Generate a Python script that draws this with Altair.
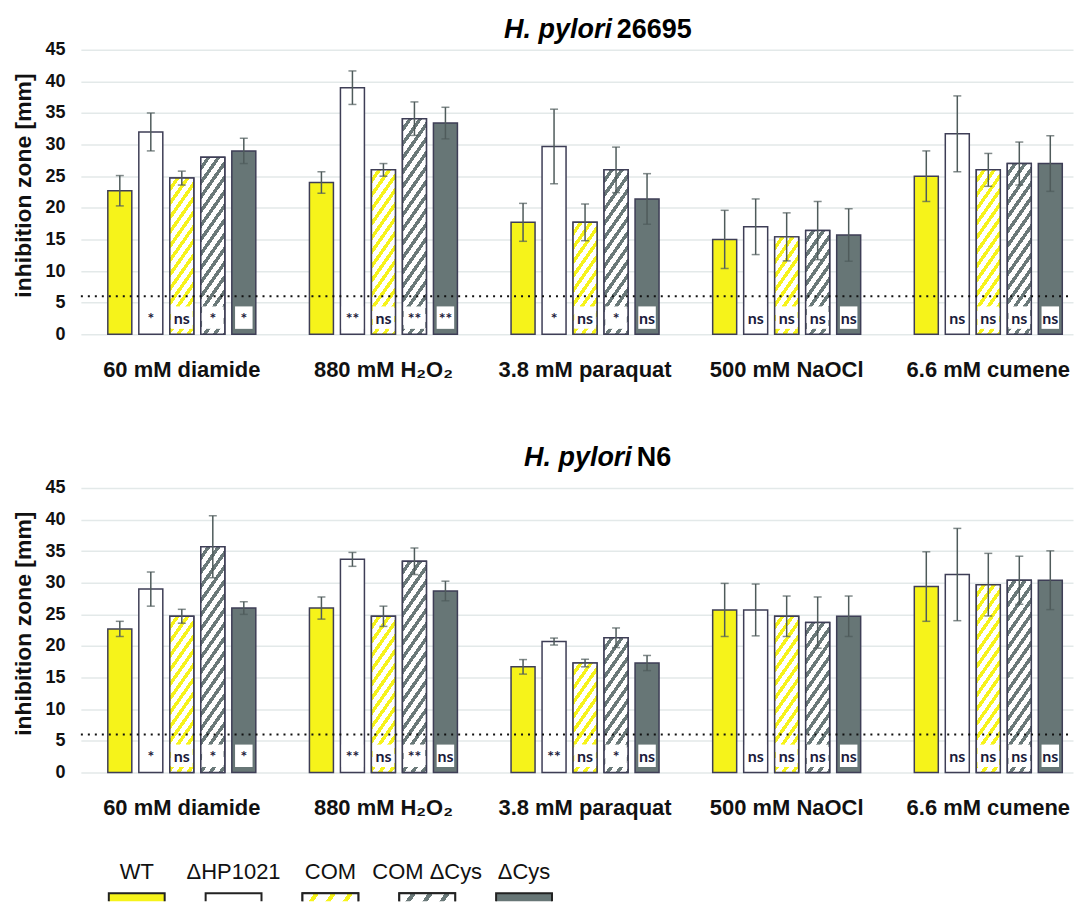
import math
import altair as alt
import pandas as pd

# ---------------- data ----------------
conditions = ["60 mM diamide", "880 mM H₂O₂", "3.8 mM paraquat", "500 mM NaOCl", "6.6 mM cumene"]
strains = ["WT", "ΔHP1021", "COM", "COM ΔCys", "ΔCys"]
threshold = [6]

# H. pylori 26695 (rows = conditions, cols = strains)
top_means = [
    [22.7, 32.0, 24.7, 28.0, 29.0],
    [24.0, 39.0, 26.0, 34.1, 33.4],
    [17.7, 29.7, 17.7, 26.0, 21.4],
    [15.0, 17.0, 15.4, 16.4, 15.7],
    [25.0, 31.7, 26.0, 27.0, 27.0],
]
top_errs = [
    [2.4, 3.0, 1.1, 0.0, 2.0],
    [1.7, 2.65, 1.0, 2.65, 2.5],
    [3.0, 5.9, 2.9, 3.6, 4.0],
    [4.6, 4.4, 3.8, 4.6, 4.15],
    [4.0, 6.0, 2.6, 3.4, 4.4],
]
top_sigs = [
    ["", "*", "ns", "*", "*"],
    ["", "**", "ns", "**", "**"],
    ["", "*", "ns", "*", "ns"],
    ["", "ns", "ns", "ns", "ns"],
    ["", "ns", "ns", "ns", "ns"],
]

# H. pylori N6
bot_means = [
    [22.7, 29.0, 24.7, 35.7, 26.0],
    [26.0, 33.7, 24.7, 33.4, 28.7],
    [16.7, 20.7, 17.3, 21.3, 17.3],
    [25.7, 25.7, 24.7, 23.7, 24.7],
    [29.4, 31.3, 29.7, 30.4, 30.4],
]
bot_errs = [
    [1.2, 2.7, 1.1, 4.9, 1.0],
    [1.75, 1.1, 1.6, 2.1, 1.55],
    [1.15, 0.55, 0.6, 1.55, 1.2],
    [4.2, 4.1, 3.2, 4.05, 3.2],
    [5.5, 7.3, 4.95, 3.8, 4.65],
]
bot_sigs = [
    ["", "*", "ns", "*", "*"],
    ["", "**", "ns", "**", "ns"],
    ["", "**", "ns", "*", "ns"],
    ["", "ns", "ns", "ns", "ns"],
    ["", "ns", "ns", "ns", "ns"],
]

# ---------------- style ----------------
PLOT_W = 994
PLOT_H = 285
Y_MAX = 45
STEP = 202
X_PAD_INNER = 0.266
X_PAD_OUTER = (PLOT_W / STEP - (len(conditions) - X_PAD_INNER)) / 2
X_ALIGN = 27 / (2 * X_PAD_OUTER * STEP)
OFF_PAD = 0.226

YELLOW = "#f6f31a"
DARK = "#677676"
STRIPE_GRAY = "#6a7979"
BAR_STROKE = "#3e3e56"
ERR = "#4f5b5b"
SIG_TEXT = "#1b1b3b"
GRID = "#e3e9e9"
HATCHED = {"COM": YELLOW, "COM ΔCys": STRIPE_GRAY}
fill_range = [YELLOW, "#ffffff", "#ffffff", "#ffffff", DARK]

group_w = STEP * (1 - X_PAD_INNER)
bar_w = group_w / (len(strains) - OFF_PAD) * (1 - OFF_PAD)


def hatch(color, w, h, theta_deg=55, period_h=10.0, frac=0.42):
    s = math.sin(math.radians(theta_deg))
    c = math.cos(math.radians(theta_deg))
    k = (w * s + h * c) / (w * w * s * s + h * h * c * c)
    x2 = k * w * s
    y2 = k * h * c
    D = w * s + h * c
    p = period_h * s
    q = p / D
    stops = []
    i = 0
    while i * q < 1:
        a = i * q
        b = min(a + (1 - frac) * q, 1)
        e = min((i + 1) * q, 1)
        stops += [(a, "#ffffff"), (b, "#ffffff"), (b, color), (e, color)]
        i += 1
    return alt.LinearGradient(
        gradient="linear",
        stops=[alt.GradientStop(offset=round(o, 5), color=col) for o, col in stops],
        x1=0, y1=0, x2=x2, y2=y2,
    )


def panel(means, errs, sigs, italic, plain, x_right, x_left, y_base):
    rows = []
    for ci, cnd in enumerate(conditions):
        for si, st in enumerate(strains):
            m = means[ci][si]
            e = errs[ci][si]
            rows.append(dict(cond=cnd, strain=st, val=m, err=e, lo=m - e, hi=m + e,
                             sig=sigs[ci][si]))
    df = pd.DataFrame(rows)
    base = alt.Chart(df)

    xenc = alt.X("cond:N",
                 scale=alt.Scale(domain=conditions, paddingInner=X_PAD_INNER,
                                 paddingOuter=X_PAD_OUTER, align=X_ALIGN),
                 axis=alt.Axis(title=None, labelAngle=0, labelFont="Liberation Sans",
                               labelFontWeight="bold", labelFontSize=22, labelColor="#111",
                               labelPadding=25, labelLimit=400, domain=False, ticks=False,
                               grid=False))
    xo = alt.XOffset("strain:N",
                     scale=alt.Scale(domain=strains, paddingInner=OFF_PAD, paddingOuter=0))
    yscale = alt.Scale(domain=[0, Y_MAX], nice=False)
    yaxis = alt.Axis(values=list(range(0, 46, 5)), labelFont="Liberation Sans",
                     labelFontWeight="bold", labelFontSize=18, labelColor="#111",
                     labelPadding=16, domain=False, ticks=False, grid=True,
                     gridColor=GRID, gridWidth=1.5, titleFont="Liberation Sans",
                     titleFontWeight="bold", titleFontSize=23, titleColor="#111",
                     titlePadding=9, titleY=PLOT_H / 2 - 7)

    def Y(field):
        return alt.Y(field, scale=yscale, axis=yaxis, title="inhibition zone [mm]")

    def YD(v):
        return alt.Y(datum=v, scale=yscale, axis=yaxis, title="inhibition zone [mm]")

    layers = []
    layers.append(base.mark_bar(stroke=BAR_STROKE, strokeWidth=1.5).encode(
        x=xenc, xOffset=xo, y=Y("val:Q"),
        fill=alt.Fill("strain:N", scale=alt.Scale(domain=strains, range=fill_range), legend=None)))

    px_per_unit = PLOT_H / Y_MAX
    for ci, cnd in enumerate(conditions):
        for st, col in HATCHED.items():
            si = strains.index(st)
            h = means[ci][si] * px_per_unit
            layers.append(
                base.transform_filter((alt.datum.cond == cnd) & (alt.datum.strain == st))
                .mark_bar(fill=hatch(col, bar_w, h), stroke=BAR_STROKE, strokeWidth=1.5)
                .encode(x=xenc, xOffset=xo, y=Y("val:Q")))

    # white label boxes
    layers.append(
        base.transform_filter((alt.datum.sig != "") & (alt.datum.strain != "ΔCys"))
        .mark_bar(fill="white", width=round(bar_w - 2.5, 2))
        .encode(x=xenc, xOffset=xo, y=YD(4.4), y2=alt.datum(0.85)))
    layers.append(
        base.transform_filter((alt.datum.sig != "") & (alt.datum.strain == "ΔCys"))
        .mark_bar(fill="white", width=round(bar_w - 6.5, 2))
        .encode(x=xenc, xOffset=xo, y=YD(4.4), y2=alt.datum(0.85)))
    layers.append(
        base.transform_filter(alt.datum.sig != "")
        .mark_text(font="Lato", fontWeight="bold", fontSize=16, color=SIG_TEXT, baseline="middle")
        .encode(x=xenc, xOffset=xo, y=YD(2.4), text="sig:N"))

    # dotted threshold line
    layers.append(
        alt.Chart(pd.DataFrame({"t": threshold}))
        .mark_rule(color="#111", strokeWidth=2, strokeDash=[2, 5])
        .encode(y=Y("t:Q"), x=alt.value(0), x2=alt.value(PLOT_W)))

    # error bars
    eb = base.transform_filter(alt.datum.err > 0)
    layers.append(eb.mark_rule(color=ERR, strokeWidth=1.5).encode(
        x=xenc, xOffset=xo, y=Y("lo:Q"), y2="hi:Q"))
    layers.append(eb.mark_tick(color=ERR, thickness=1.5, size=8).encode(
        x=xenc, xOffset=xo, y=Y("lo:Q")))
    layers.append(eb.mark_tick(color=ERR, thickness=1.5, size=8).encode(
        x=xenc, xOffset=xo, y=Y("hi:Q")))

    # title (italic species + plain strain)
    layers.append(
        alt.Chart(pd.DataFrame({"t": [italic]}))
        .mark_text(font="Liberation Sans", fontStyle="italic", fontWeight="bold", fontSize=27,
                   align="right", baseline="alphabetic", color="#000")
        .encode(x=alt.value(x_right), y=alt.value(y_base), text="t:N"))
    layers.append(
        alt.Chart(pd.DataFrame({"t": [plain]}))
        .mark_text(font="Liberation Sans", fontWeight="bold", fontSize=27,
                   align="left", baseline="alphabetic", color="#000")
        .encode(x=alt.value(x_left), y=alt.value(y_base), text="t:N"))

    return alt.layer(*layers).properties(width=PLOT_W, height=PLOT_H)


top = panel(top_means, top_errs, top_sigs, "H. pylori", "26695", 532, 537, -11.6)
bottom = panel(bot_means, bot_errs, bot_sigs, "H. pylori", "N6", 552, 557, -22.0)

# ---------------- legend ----------------
LEG_W, LEG_H = 56, 23
LEG_TOP = 60
LEG_VIEW_H = 68
leg_df = pd.DataFrame({"strain": strains})
lx = alt.X("strain:N", scale=alt.Scale(domain=strains, range=[28, 472], paddingInner=0.423,
                                       paddingOuter=0), axis=None)
leg_layers = [
    alt.Chart(leg_df).mark_text(font="Liberation Sans", fontSize=22, color="#111",
                                baseline="middle")
    .encode(x=lx, y=alt.value(39), text="strain:N"),
    alt.Chart(leg_df).mark_bar(stroke="#222", strokeWidth=2, clip=True)
    .encode(x=lx, y=alt.value(LEG_TOP), y2=alt.value(LEG_TOP + LEG_H),
            fill=alt.Fill("strain:N", scale=alt.Scale(domain=strains, range=fill_range),
                          legend=None)),
]
for st, col in HATCHED.items():
    leg_layers.append(
        alt.Chart(leg_df).transform_filter(alt.datum.strain == st)
        .mark_bar(fill=hatch(col, LEG_W, LEG_H, theta_deg=55, period_h=17, frac=0.3),
                  stroke="#222", strokeWidth=2, clip=True)
        .encode(x=lx, y=alt.value(LEG_TOP), y2=alt.value(LEG_TOP + LEG_H)))
legend = alt.layer(*leg_layers).properties(width=500, height=LEG_VIEW_H)

chart = alt.vconcat(top, alt.vconcat(bottom, legend, spacing=15), spacing=64).properties(
    padding={"left": 4, "top": 7, "right": 0, "bottom": 0}
).configure(
    font="Liberation Sans",
    view=alt.ViewConfig(stroke="transparent", strokeWidth=0),
)

chart.save("out.html", embed_options={"renderer": "svg", "actions": False})
